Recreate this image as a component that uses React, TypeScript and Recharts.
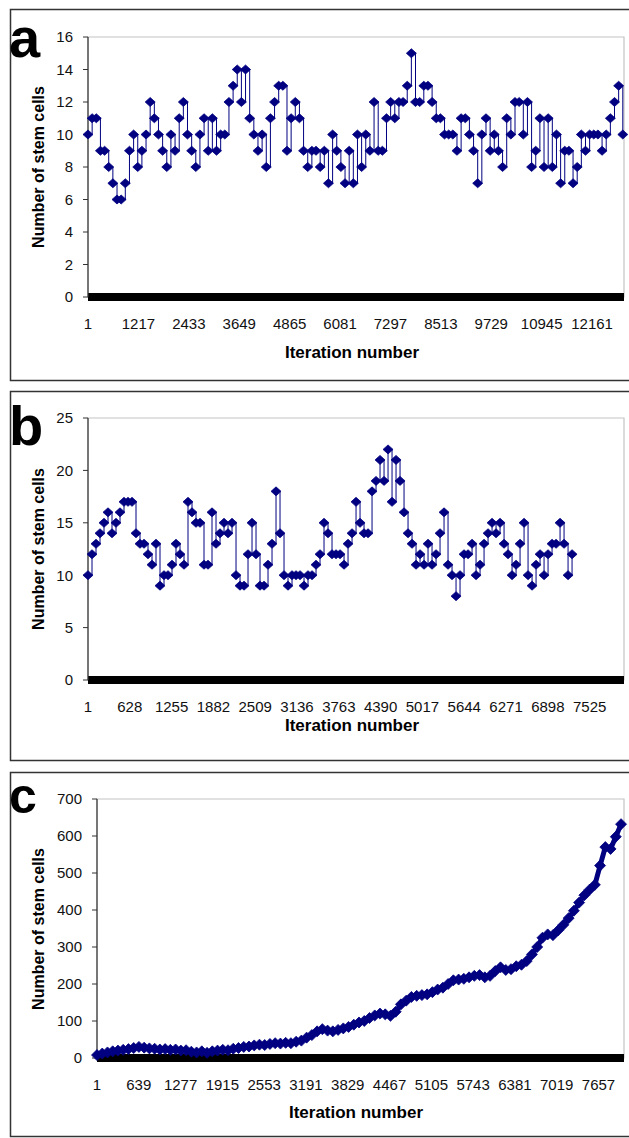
import React from "react";
import { LineChart, Line, XAxis, YAxis, ReferenceArea } from "recharts";

// panel a: one reading every 100 iterations
const aStep = 100;
const aCounts = [
  10, 11, 11, 9, 9, 8, 7, 6, 6, 7,
  9, 10, 8, 9, 10, 12, 11, 10, 9, 8,
  10, 9, 11, 12, 10, 9, 8, 10, 11, 9,
  11, 9, 10, 10, 12, 13, 14, 12, 14, 11,
  10, 9, 10, 8, 11, 12, 13, 13, 9, 11,
  12, 11, 9, 8, 9, 9, 8, 9, 7, 10,
  9, 8, 7, 9, 7, 10, 8, 10, 9, 12,
  9, 9, 11, 12, 11, 12, 12, 13, 15, 12,
  12, 13, 13, 12, 11, 11, 10, 10, 10, 9,
  11, 11, 10, 9, 7, 10, 11, 9, 10, 9,
  8, 11, 10, 12, 12, 10, 12, 8, 9, 11,
  8, 11, 8, 10, 7, 9, 9, 7, 8, 10,
  9, 10, 10, 10, 9, 10, 11, 12, 13, 10,
];
const aXTicks = [1, 1217, 2433, 3649, 4865, 6081, 7297, 8513, 9729, 10945, 12161];
const aYTicks = [0, 2, 4, 6, 8, 10, 12, 14, 16];

// panel b: one reading every 60 iterations
const bStep = 60;
const bCounts = [
  10, 12, 13, 14, 15, 16, 14, 15, 16, 17,
  17, 17, 14, 13, 13, 12, 11, 13, 9, 10,
  10, 11, 13, 12, 11, 17, 16, 15, 15, 11,
  11, 16, 13, 14, 15, 14, 15, 10, 9, 9,
  12, 15, 12, 9, 9, 11, 13, 18, 14, 10,
  9, 10, 10, 10, 9, 10, 10, 11, 12, 15,
  14, 12, 12, 12, 11, 13, 14, 17, 15, 14,
  14, 18, 19, 21, 19, 22, 17, 21, 19, 16,
  14, 13, 11, 12, 11, 13, 11, 12, 14, 16,
  11, 10, 8, 10, 12, 12, 13, 10, 11, 13,
  14, 15, 14, 15, 13, 12, 10, 11, 13, 15,
  10, 9, 11, 12, 10, 12, 13, 13, 15, 13,
  10, 12,
];
const bXTicks = [1, 628, 1255, 1882, 2509, 3136, 3763, 4390, 5017, 5644, 6271, 6898, 7525];
const bYTicks = [0, 5, 10, 15, 20, 25];

// panel c: one reading every 80 iterations
const cStep = 80;
const cCounts = [
  8, 12, 15, 18, 20, 22, 24, 27, 30, 28,
  26, 25, 23, 24, 22, 23, 20, 21, 17, 15,
  18, 14, 18, 20, 22, 21, 25, 27, 30, 31,
  34, 36, 35, 38, 40, 39, 41, 40, 44, 47,
  55, 62, 72, 78, 74, 72, 76, 80, 84, 90,
  96, 100, 108, 115, 120, 118, 114, 125, 145, 155,
  165, 168, 170, 172, 178, 185, 190, 200, 210, 212,
  214, 218, 222, 224, 218, 222, 235, 245, 238, 240,
  248, 252, 262, 280, 300, 325, 334, 332, 345, 360,
  378, 398, 420, 440, 455, 468, 520, 570, 565, 598,
  632,
];
const cXTicks = [1, 639, 1277, 1915, 2553, 3191, 3829, 4467, 5105, 5743, 6381, 7019, 7657];
const cYTicks = [0, 100, 200, 300, 400, 500, 600, 700];

const FONT = '"Liberation Sans", Arial, Helvetica, sans-serif';
const NAVY = "#000080";

const toRows = (counts: number[], step: number) =>
  counts.map((v, i) => ({ iter: 1 + i * step, cells: v }));

const makeDiamond = (rx: number, ry: number) => (props: any) => {
  const { cx, cy, index } = props;
  if (cx == null || cy == null) return <g key={`e-${index}`} />;
  return (
    <path
      key={`d-${index}`}
      d={`M${cx},${cy - ry}L${cx + rx},${cy}L${cx},${cy + ry}L${cx - rx},${cy}Z`}
      fill={NAVY}
      stroke={NAVY}
      strokeWidth={0.8}
    />
  );
};

type PanelProps = {
  top: number;
  height: number;
  plotTop: number;
  plotBottom: number;
  plotLeft: number;
  rows: { iter: number; cells: number }[];
  xMax: number;
  xTicks: number[];
  yMax: number;
  yTicks: number[];
  step: boolean;
  lineWidth: number;
  rx: number;
  ry: number;
};

function Panel(p: PanelProps) {
  const yW = 60;
  const xH = 40;
  const tickStyle = { fill: "#111", fontSize: 15, fontFamily: FONT };
  return (
    <div style={{ position: "absolute", left: 0, top: p.top }}>
      <LineChart
        width={629}
        height={p.height}
        data={p.rows}
        margin={{
          top: p.plotTop,
          right: 5,
          left: p.plotLeft - yW,
          bottom: p.height - p.plotBottom - xH,
        }}
      >
        <ReferenceArea
          x1={1}
          x2={p.xMax}
          y1={0}
          y2={p.yMax}
          fill="none"
          stroke="#c4c4c4"
          strokeWidth={1.2}
        />
        <XAxis
          dataKey="iter"
          type="number"
          domain={[1, p.xMax]}
          ticks={p.xTicks}
          interval={0}
          height={xH}
          tickLine={false}
          tickSize={9}
          tickMargin={12}
          axisLine={{ stroke: "#000", strokeWidth: 8 }}
          tick={tickStyle}
        />
        <YAxis
          type="number"
          domain={[0, p.yMax]}
          ticks={p.yTicks}
          interval={0}
          width={yW}
          tickSize={5}
          tickMargin={10}
          tickLine={{ stroke: "#333" }}
          axisLine={{ stroke: "#333", strokeWidth: 1.2 }}
          tick={tickStyle}
        />
        <Line
          type={p.step ? "stepAfter" : "linear"}
          dataKey="cells"
          stroke={NAVY}
          strokeWidth={p.lineWidth}
          dot={makeDiamond(p.rx, p.ry)}
          activeDot={false}
          isAnimationActive={false}
        />
      </LineChart>
    </div>
  );
}

const boxes = [
  { y: 9, h: 371 },
  { y: 391, h: 369 },
  { y: 772, h: 364 },
];

const labels = [
  { letter: "a", base: 57, yMid: 167, xTitle: 352, xBase: 358 },
  { letter: "b", base: 445, yMid: 549, xTitle: 352, xBase: 731 },
  { letter: "c", base: 813, yMid: 929, xTitle: 356, xBase: 1118 },
];

export default function App() {
  return (
    <div
      style={{
        position: "absolute",
        left: 0,
        top: 0,
        width: 629,
        height: 1138,
        background: "#fff",
        overflow: "hidden",
        fontFamily: FONT,
      }}
    >
      <Panel
        top={0}
        height={380}
        plotTop={37}
        plotBottom={297}
        plotLeft={88}
        rows={toRows(aCounts, aStep)}
        xMax={12930}
        xTicks={aXTicks}
        yMax={16}
        yTicks={aYTicks}
        step={true}
        lineWidth={1}
        rx={5}
        ry={4.5}
      />
      <Panel
        top={385}
        height={375}
        plotTop={33}
        plotBottom={295}
        plotLeft={88}
        rows={toRows(bCounts, bStep)}
        xMax={8040}
        xTicks={bXTicks}
        yMax={25}
        yTicks={bYTicks}
        step={true}
        lineWidth={1}
        rx={5}
        ry={4.5}
      />
      <Panel
        top={765}
        height={373}
        plotTop={34}
        plotBottom={293}
        plotLeft={97}
        rows={toRows(cCounts, cStep)}
        xMax={8046}
        xTicks={cXTicks}
        yMax={700}
        yTicks={cYTicks}
        step={false}
        lineWidth={5}
        rx={5.5}
        ry={5.5}
      />
      <svg
        width={629}
        height={1138}
        style={{ position: "absolute", left: 0, top: 0, pointerEvents: "none" }}
      >
        {boxes.map((b, i) => (
          <rect
            key={i}
            x={10.5}
            y={b.y + 0.5}
            width={640}
            height={b.h}
            fill="none"
            stroke="#333"
            strokeWidth={1.5}
          />
        ))}
        {labels.map((l) => (
          <g key={l.letter} fontFamily={FONT} fill="#000">
            <text x={9} y={l.base} fontSize={l.letter === "c" ? 50 : 56} fontWeight="bold">
              {l.letter}
            </text>
            <text
              x={38}
              y={l.yMid}
              fontSize={16}
              fontWeight="bold"
              textAnchor="middle"
              dominantBaseline="central"
              transform={`rotate(-90 38 ${l.yMid})`}
            >
              Number of stem cells
            </text>
            <text x={l.xTitle} y={l.xBase} fontSize={17} fontWeight="bold" textAnchor="middle">
              Iteration number
            </text>
          </g>
        ))}
      </svg>
    </div>
  );
}
